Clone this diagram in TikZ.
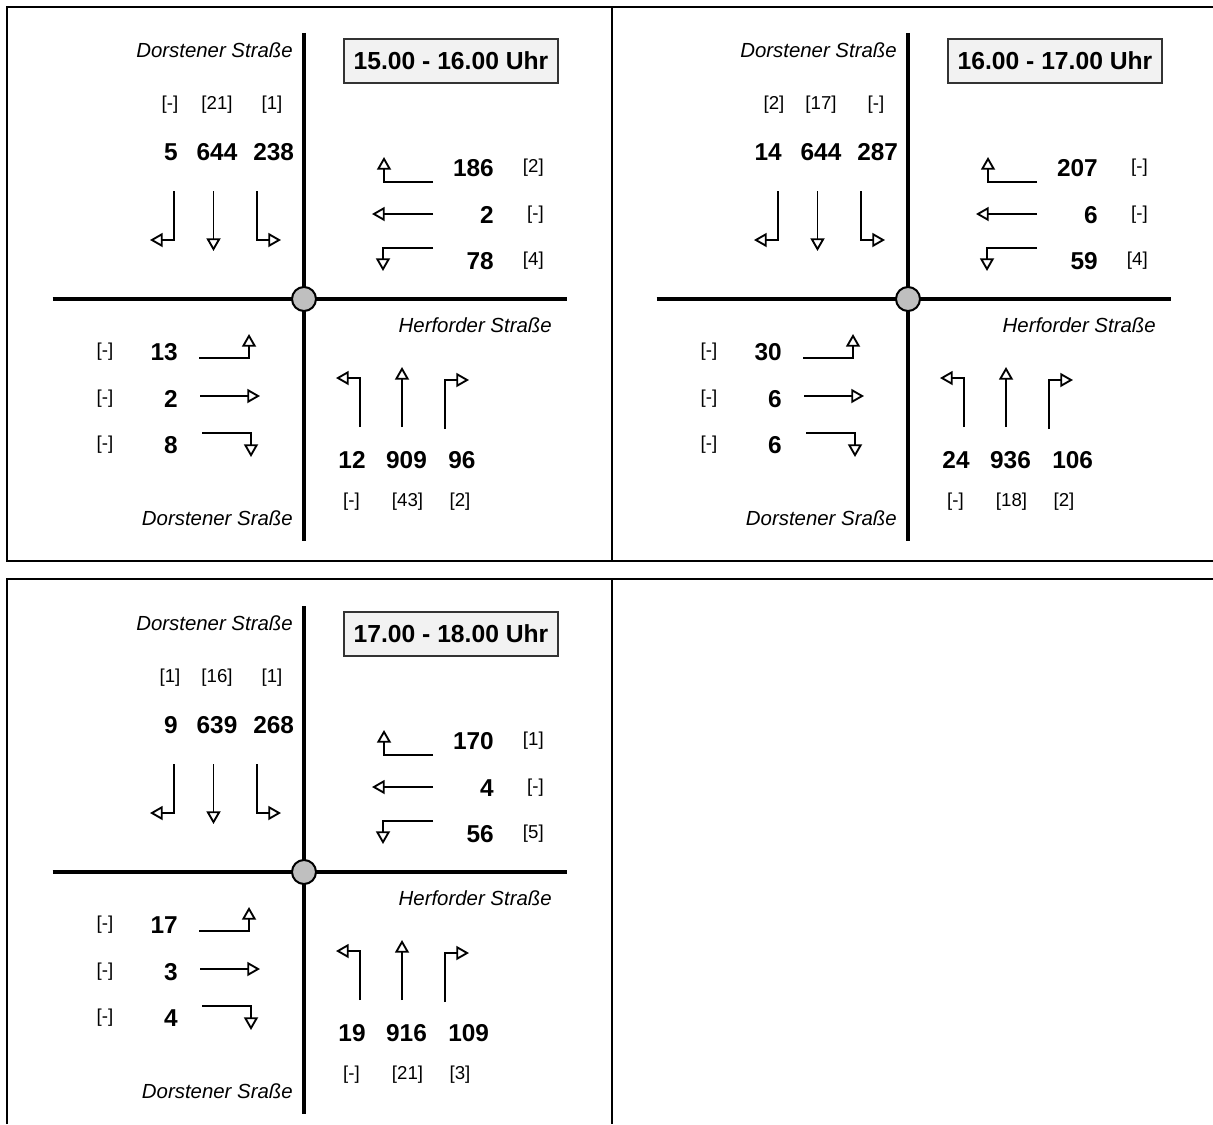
\documentclass[tikz,border=0pt]{standalone}
\usepackage{fontspec}
\setmainfont{Liberation Sans}
\usetikzlibrary{arrows.meta}
\tikzset{
 frameline/.style={line width=1.7pt},
 road/.style={line width=3.4pt},
 arr/.style={line width=1.4pt, -{Triangle[open,length=9.5pt,width=10.5pt,line width=1.4pt]}},
 num/.style={font=\fontsize{18.3pt}{22pt}\selectfont\bfseries, inner sep=0pt, text height=13.1pt, text depth=0pt},
 brk/.style={font=\fontsize{14pt}{17pt}\selectfont, inner sep=0pt, text height=10.2pt, text depth=2.94pt},
 street/.style={font=\fontsize{15.3pt}{18pt}\selectfont\itshape, inner sep=0pt, text height=10.95pt, text depth=0pt, anchor=east},
 timebox/.style={draw=black!80, line width=1.2pt, fill=black!5, minimum width=160.5pt, minimum height=33pt, inner sep=0pt, font=\fontsize{18.5pt}{22pt}\selectfont\bfseries},
 hub/.style={circle, draw=black, line width=1.5pt, fill=black!25, minimum size=18pt, inner sep=0pt},
}
\newcommand\panelbase[2]{%
 \draw[road] (304,33) -- (304,541);
 \draw[road] (52.6,299) -- (566.6,299);
 \node[hub] (#1hub) at (304,299) {};
 \node[timebox] (#1time) at (451,61) {#2};
 \node[street] (#1nname) at (293,50) {Dorstener Straße};
 \node[street] (#1ename) at (552,325) {Herforder Straße};
 \node[street] (#1sname) at (293,518) {Dorstener Sraße};
 % from north
 \draw[arr] (174,191) |- (150,240);
 \draw[arr] (213.5,191) -- (213.5,251);
 \draw[arr] (257,191) |- (281,240);
 % from east
 \draw[arr] (433,182) -| (384,157);
 \draw[arr] (433,214) -- (372,214);
 \draw[arr] (433,248) -| (383,271);
 % from west
 \draw[arr] (199,358) -| (249,334);
 \draw[arr] (200,396) -- (260,396);
 \draw[arr] (202,433) -| (251,457);
 % from south
 \draw[arr] (360,427) |- (336,378);
 \draw[arr] (402,427) -- (402,367);
 \draw[arr] (445,429) |- (469,380);
}
\newcommand\northgrp[7]{%
 \node[brk] (#1nb1) at (170,105) {#2};
 \node[brk] (#1nb2) at (217,105) {#3};
 \node[brk] (#1nb3) at (272,105) {#4};
 \node[num,anchor=east] (#1nn1) at (178,152) {#5};
 \node[num] (#1nn2) at (217,152) {#6};
 \node[num,anchor=west] (#1nn3) at (253,152) {#7};
}
\newcommand\eastgrp[7]{%
 \node[num,anchor=east] (#1en1) at (494,168) {#2};
 \node[brk,anchor=east] (#1eb1) at (544,168) {#3};
 \node[num,anchor=east] (#1en2) at (494,215) {#4};
 \node[brk,anchor=east] (#1eb2) at (544,215) {#5};
 \node[num,anchor=east] (#1en3) at (494,261) {#6};
 \node[brk,anchor=east] (#1eb3) at (544,261) {#7};
}
\newcommand\westgrp[4]{%
 \node[brk] (#1wb1) at (105,352) {[-]};
 \node[num,anchor=east] (#1wn1) at (178,352) {#2};
 \node[brk] (#1wb2) at (105,399) {[-]};
 \node[num,anchor=east] (#1wn2) at (178,399) {#3};
 \node[brk] (#1wb3) at (105,445) {[-]};
 \node[num,anchor=east] (#1wn3) at (178,445) {#4};
}
\newcommand\southgrp[7]{%
 \node[num] (#1sn1) at (352,460) {#2};
 \node[num] (#1sn2) at (406.5,460) {#3};
 \node[num,anchor=west] (#1sn3) at (448,460) {#4};
 \node[brk] (#1sb1) at (351.5,502) {#5};
 \node[brk] (#1sb2) at (407.5,502) {#6};
 \node[brk] (#1sb3) at (460,502) {#7};
}
\begin{document}
\begin{tikzpicture}[x=0.75pt,y=-0.75pt]
\useasboundingbox (0,0) rectangle (1213,1124);
% frames
\draw[frameline] (1213,7) -- (7,7) -- (7,561) -- (1213,561);
\draw[frameline] (612,7) -- (612,561);
\draw[frameline] (7,1124) -- (7,579) -- (1213,579);
\draw[frameline] (612,579) -- (612,1124);
% panel 1
\begin{scope}
 \panelbase{A}{15.00 - 16.00 Uhr}
 \northgrp{A}{[-]}{[21]}{[1]}{5}{644}{238}
 \eastgrp{A}{186}{[2]}{2}{[-]}{78}{[4]}
 \westgrp{A}{13}{2}{8}
 \southgrp{A}{12}{909}{96}{[-]}{[43]}{[2]}
\end{scope}
% panel 2
\begin{scope}[shift={(604,0)}]
 \panelbase{B}{16.00 - 17.00 Uhr}
 \northgrp{B}{[2]}{[17]}{[-]}{14}{644}{287}
 \eastgrp{B}{207}{[-]}{6}{[-]}{59}{[4]}
 \westgrp{B}{30}{6}{6}
 \southgrp{B}{24}{936}{106}{[-]}{[18]}{[2]}
\end{scope}
% panel 3
\begin{scope}[shift={(0,573)}]
 \panelbase{C}{17.00 - 18.00 Uhr}
 \northgrp{C}{[1]}{[16]}{[1]}{9}{639}{268}
 \eastgrp{C}{170}{[1]}{4}{[-]}{56}{[5]}
 \westgrp{C}{17}{3}{4}
 \southgrp{C}{19}{916}{109}{[-]}{[21]}{[3]}
\end{scope}
\end{tikzpicture}
\end{document}
